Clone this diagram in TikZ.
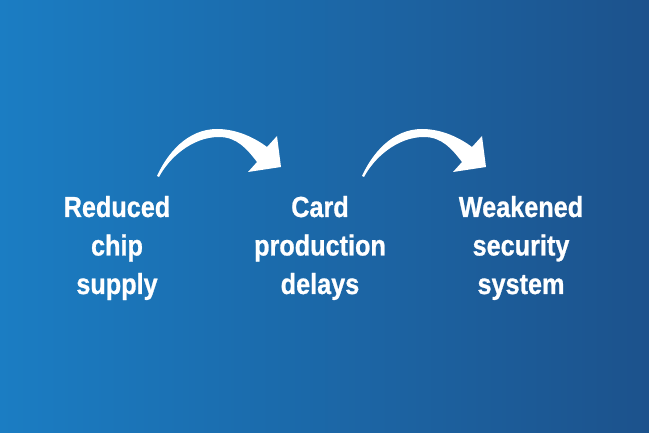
\documentclass[tikz,border=0pt]{standalone}
\usepackage{fontspec}
\setmainfont{Liberation Sans}[FakeStretch=0.87,FakeBold=0.8]
\definecolor{bgleft}{RGB}{27,125,195}
\definecolor{bgright}{RGB}{28,82,140}
\begin{document}
\begin{tikzpicture}[x=1pt,y=-1pt, line join=round,
	step label/.style={text=white, align=center, inner sep=0pt, font=\bfseries\fontsize{29}{38.5}\selectfont}]
	\def\W{649} \def\H{433} % Kích thước
	\def\arrowy{176}
	\newcommand\bendarrow[1]{%
		\fill[white,shift={(#1)}] (0,0) .. controls (10,-22) and (30,-47) .. (60,-47)
		.. controls (80,-47) and (98,-38) .. (110,-29) -- (120,-40) -- (124,-9) -- (91,-4) -- (100,-14)
		.. controls (90,-27) and (80,-39) .. (62,-39) .. controls (35,-39) and (12,-18) .. (2,1) -- cycle;}
	\shade[left color=bgleft, right color=bgright] (0,0) rectangle (\W,\H);
	\useasboundingbox (0,0) rectangle (\W,\H);
	\node[step label] (chip) at (117,248) {Reduced\\chip\\supply};
	\node[step label] (card) at (320,248) {Card\\production\\delays};
	\node[step label] (security) at (521,248) {Weakened\\security\\system};
	\coordinate (tail1) at (157,\arrowy);
	\coordinate (tail2) at (362,\arrowy);
	\bendarrow{tail1}
	\bendarrow{tail2}
\end{tikzpicture}
\end{document}
